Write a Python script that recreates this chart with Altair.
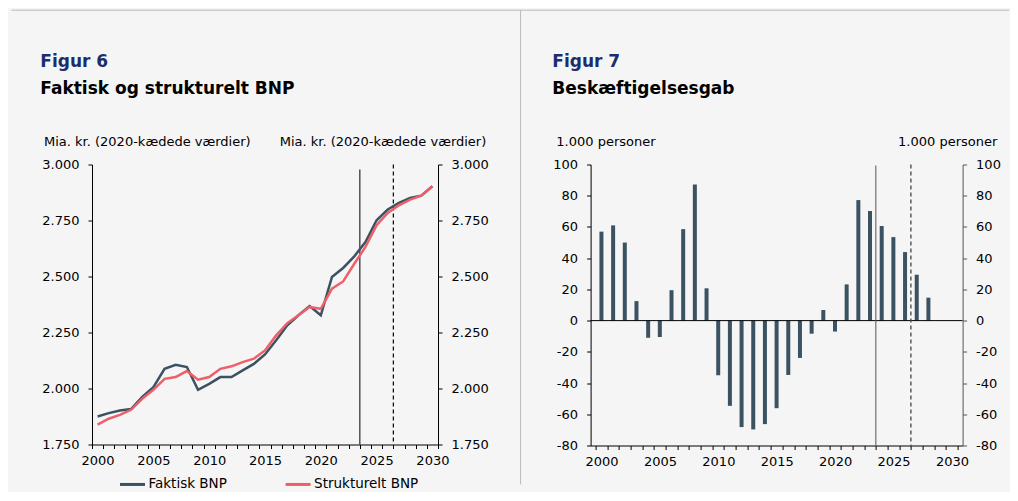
import altair as alt
import pandas as pd

# ---------------- data ----------------
years = list(range(2000, 2031))
faktisk = [1875, 1890, 1902, 1908, 1962, 2006, 2088, 2106, 2096, 1994,
           2021, 2051, 2051, 2081, 2110, 2152, 2215, 2282, 2327, 2368,
           2327, 2498, 2538, 2590, 2654, 2751, 2799, 2829, 2851, 2861, 2903]
strukturelt = [1839, 1865, 1882, 1905, 1954, 1994, 2043, 2051, 2078, 2039,
               2051, 2088, 2099, 2118, 2133, 2170, 2237, 2292, 2327, 2364,
               2356, 2446, 2478, 2557, 2632, 2729, 2784, 2818, 2843, 2861, 2903]
series_names = ["Faktisk BNP", "Strukturelt BNP"]

gap_years = list(range(2000, 2029))
gap = [57, 61, 50, 12.5, -11, -10.5, 19.5, 58.6, 87.2, 20.7,
       -35, -54.6, -68.2, -69.7, -66.3, -56.1, -34.8, -23.9, -8.4, 6.8,
       -7, 23.2, 77.2, 70.2, 60.6, 53.5, 43.9, 29.4, 14.7]

solid_marker = [2023.5]
dashed_marker = [2026.5]

y1_ticks = [1750, 2000, 2250, 2500, 2750, 3000]
y2_ticks = [-80, -60, -40, -20, 0, 20, 40, 60, 80, 100]
x_tick_bounds = [y - 0.5 for y in range(2000, 2032)]

# ---------------- style ----------------
FONT = "DejaVu Sans"
NAVY = "#1b2d6b"
SLATE = "#3b5262"
RED = "#ef5f6a"
BORDER = "#b9b9b9"
BG = "#f5f5f5"

W1, H1 = 346, 280
W2, H2 = 372, 281

df1 = pd.DataFrame({
    "year": years * 2,
    "series": [series_names[0]] * len(years) + [series_names[1]] * len(years),
    "value": faktisk + strukturelt,
})
df2 = pd.DataFrame({"year": gap_years, "gap": gap})
solid_df = pd.DataFrame({"x": solid_marker})
dashed_df = pd.DataFrame({"x": dashed_marker})
one = alt.Data(values=[{"k": 1}])

x_scale = alt.Scale(domain=[1999.5, 2030.5], nice=False, zero=False)
y1_scale = alt.Scale(domain=[1750, 3000], nice=False, zero=False)
y2_scale = alt.Scale(domain=[-80, 100], nice=False, zero=False)


def x_axis(offset):
    return alt.Axis(
        values=x_tick_bounds,
        labelExpr="(datum.value + 0.5) % 5 == 0 ? '' + (datum.value + 0.5) : ''",
        labelOffset=offset, labelFlush=False, labelOverlap=False,
        tickSize=4, labelPadding=6, title=None, grid=False,
        domainColor="black", tickColor="black", orient="bottom",
    )


def y_axis(orient, values, expr, color="black"):
    return alt.Axis(
        orient=orient, values=values, labelExpr=expr, tickSize=4,
        labelPadding=9, title=None, grid=False, labelFlush=False,
        labelOverlap=False, domainColor=color, tickColor=color,
    )


def text_layer(txt, x, y, size=13, weight="normal", color="black", align="left"):
    return alt.Chart(one).mark_text(
        text=txt, align=align, baseline="alphabetic", font=FONT,
        fontSize=size, fontWeight=weight, color=color,
    ).encode(x=alt.value(x), y=alt.value(y))


def hline(x1, x2, y):
    return alt.Chart(one).mark_rule(color=BORDER, strokeWidth=1).encode(
        x=alt.value(x1), x2=alt.value(x2), y=alt.value(y))


def vline(x, y1, y2):
    return alt.Chart(one).mark_rule(color=BORDER, strokeWidth=1).encode(
        x=alt.value(x), y=alt.value(y1), y2=alt.value(y2))


DANISH = "replace(format(datum.value, ','), ',', '.')"
PLAIN = "'' + datum.value"

# ---------------- chart 1 ----------------
xa1 = x_axis(W1 / 62)
lines = alt.Chart(df1).mark_line(strokeWidth=2.5).encode(
    x=alt.X("year:Q", scale=x_scale, axis=xa1),
    y=alt.Y("value:Q", scale=y1_scale, axis=y_axis("left", y1_ticks, DANISH)),
    color=alt.Color(
        "series:N",
        scale=alt.Scale(domain=series_names, range=[SLATE, RED]),
        legend=alt.Legend(
            orient="none", legendX=26.5, legendY=305.7, direction="horizontal",
            title=None, symbolType="stroke", symbolSize=625,
            symbolStrokeWidth=3, labelFont=FONT, labelFontSize=13.5,
            labelColor="black", columnPadding=51.6, labelOffset=2,
        ),
    ),
)
right1 = alt.Chart(df1).mark_point(opacity=0).encode(
    x=alt.X("year:Q", scale=x_scale, axis=xa1),
    y=alt.Y("value:Q", scale=y1_scale, axis=y_axis("right", y1_ticks, DANISH)),
)
solid1 = alt.Chart(solid_df).mark_rule(color="black", strokeWidth=1).encode(
    x=alt.X("x:Q", scale=x_scale, axis=xa1), y=alt.value(5), y2=alt.value(H1))
dashed1 = alt.Chart(dashed_df).mark_rule(color="black", strokeWidth=1.2, strokeDash=[4, 3]).encode(
    x=alt.X("x:Q", scale=x_scale, axis=xa1), y=alt.value(0), y2=alt.value(H1))

c1 = alt.layer(
    hline(-80.7, 428.6, -154.3),
    vline(428.6, -154.3, 320),
    text_layer("Figur 6", -51.7, -97.8, 17, "bold", NAVY),
    text_layer("Faktisk og strukturelt BNP", -51.7, -70.3, 17, "bold"),
    text_layer("Mia. kr. (2020-kædede værdier)", -48, -18.5),
    text_layer("Mia. kr. (2020-kædede værdier)", 394.3, -18.5, align="right"),
    solid1, dashed1, right1, lines,
).resolve_scale(y="independent").properties(width=W1, height=H1)

# ---------------- chart 2 ----------------
xa2 = x_axis(W2 / 62)
bars = alt.Chart(df2).mark_bar(size=4, color=SLATE).encode(
    x=alt.X("year:Q", scale=x_scale, axis=xa2),
    y=alt.Y("gap:Q", scale=y2_scale, axis=y_axis("left", y2_ticks, PLAIN)),
)
right2 = alt.Chart(df2).mark_point(opacity=0).encode(
    x=alt.X("year:Q", scale=x_scale, axis=xa2),
    y=alt.Y("gap:Q", scale=y2_scale, axis=y_axis("right", y2_ticks, PLAIN, "#555555")),
)
zero2 = alt.Chart(one).mark_rule(color="black", strokeWidth=1).encode(
    y=alt.YDatum(0, scale=y2_scale, axis=None), x=alt.value(0), x2=alt.value(W2))
solid2 = alt.Chart(solid_df).mark_rule(color="#555555", strokeWidth=1).encode(
    x=alt.X("x:Q", scale=x_scale, axis=xa2), y=alt.value(1), y2=alt.value(H2))
dashed2 = alt.Chart(dashed_df).mark_rule(color="#444444", strokeWidth=1.3, strokeDash=[4, 3]).encode(
    x=alt.X("x:Q", scale=x_scale, axis=xa2), y=alt.value(0), y2=alt.value(H2))

c2 = alt.layer(
    hline(-70, 418.7, -154.3),
    text_layer("Figur 7", -38.3, -97.8, 17, "bold", NAVY),
    text_layer("Beskæftigelsesgab", -38.3, -70.3, 17, "bold"),
    text_layer("1.000 personer", -34.3, -18.5),
    text_layer("1.000 personer", 406.7, -18.5, align="right"),
    bars, zero2, solid2, dashed2, right2,
).resolve_scale(y="independent").properties(width=W2, height=H2)

chart = alt.hconcat(c1, c2, spacing=152.6, bounds="flush").properties(
    padding={"left": 2, "top": 1.5, "right": 0, "bottom": 0},
    background=BG,
).configure_view(stroke=None).configure_axis(
    labelFont=FONT, labelFontSize=13, labelColor="black",
)

chart.save("out.html", embed_options={"renderer": "svg", "actions": False})
